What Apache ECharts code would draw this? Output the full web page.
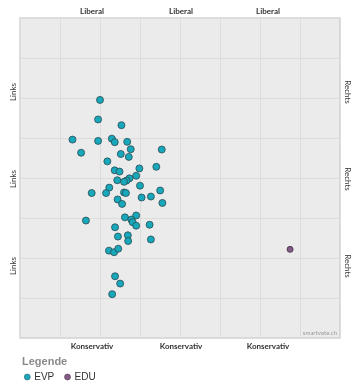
<!DOCTYPE html>
<html>
<head>
<meta charset="utf-8">
<script src="https://cdn.jsdelivr.net/npm/echarts@6/dist/echarts.min.js"></script>
<style>html,body{margin:0;padding:0;background:#fff}#c{width:362px;height:388px}</style>
</head>
<body>
<div id="c"></div>
<script>
// Data (x: 0 = left/Links, 100 = right/Rechts; y: 0 = Konservativ, 100 = Liberal)
const evpX = [25.0,24.4,31.7,16.4,24.4,28.7,29.6,33.5,19.1,31.5,34.6,34.0,44.3,27.3,29.6,31.1,37.3,42.6,30.4,36.3,34.2,33.3,32.5,27.9,37.5,22.4,26.9,32.5,33.1,43.8,30.5,38.0,40.9,31.9,44.5,32.8,36.3,34.8,35.2,36.3,40.5,20.6,29.7,30.6,33.7,33.8,40.9,27.8,29.4,30.7,29.7,31.3,28.8];
const evpY = [74.4,68.3,66.5,62.0,61.6,62.3,61.2,61.3,57.9,57.5,59.0,56.6,58.9,55.2,52.4,52.0,53.0,53.5,49.3,50.7,49.9,49.2,48.8,47.0,47.6,45.3,45.3,45.5,45.3,46.1,43.3,43.9,44.2,41.9,42.2,37.7,38.3,37.0,36.2,35.1,35.4,36.7,34.6,31.7,32.1,30.3,30.8,27.3,26.8,27.9,19.3,17.0,13.7];
const eduX = [84.4];
const eduY = [27.7];
const seriesNames = ['EVP','EDU'];
const topLabels = ['Liberal','Liberal','Liberal'];
const bottomLabels = ['Konservativ','Konservativ','Konservativ'];
const leftLabels = ['Links','Links','Links'];
const rightLabels = ['Rechts','Rechts','Rechts'];
const legendTitle = 'Legende';
const credit = 'smartvote.ch';

const evpData = evpX.map((x,i)=>[x, evpY[i]]);
const eduData = eduX.map((x,i)=>[x, eduY[i]]);

const labelX = [92,181,268];
const labelY = [92,179,266];
const g = [];
topLabels.forEach((t,i)=>g.push({type:'text',x:labelX[i],y:11,style:{text:t,font:'bold 8px Lato, sans-serif',fill:'#333',align:'center',verticalAlign:'middle'}}));
bottomLabels.forEach((t,i)=>g.push({type:'text',x:labelX[i],y:346,style:{text:t,font:'bold 8px Lato, sans-serif',fill:'#333',align:'center',verticalAlign:'middle'}}));
leftLabels.forEach((t,i)=>g.push({type:'text',x:13,y:labelY[i],rotation:Math.PI/2,style:{text:t,font:'8px Lato, sans-serif',fill:'#333',align:'center',verticalAlign:'middle'}}));
rightLabels.forEach((t,i)=>g.push({type:'text',x:348,y:labelY[i],rotation:-Math.PI/2,style:{text:t,font:'8px Lato, sans-serif',fill:'#333',align:'center',verticalAlign:'middle'}}));
g.push({type:'text',x:337,y:333,style:{text:credit,font:'6px Lato, sans-serif',fill:'#999',align:'right',verticalAlign:'middle'}});
g.push({type:'text',x:22,y:362,style:{text:legendTitle,font:'bold 11px "Liberation Sans", Arial, sans-serif',fill:'#8a8a8a',align:'left',verticalAlign:'middle'}});

const chart = echarts.init(document.getElementById('c'), null, {renderer:'canvas'});
chart.setOption({
  animation:false,
  grid:{left:20,top:18,width:320,height:320,show:true,backgroundColor:'#ebebeb',borderColor:'#d2d2d2',borderWidth:1.5},
  xAxis:{type:'value',min:0,max:100,interval:12.5,axisLabel:{show:false},axisTick:{show:false},axisLine:{show:false},splitLine:{show:true,lineStyle:{color:'#dcdcdc',width:1}}},
  yAxis:{type:'value',min:0,max:100,interval:12.5,axisLabel:{show:false},axisTick:{show:false},axisLine:{show:false},splitLine:{show:true,lineStyle:{color:'#dcdcdc',width:1}}},
  legend:{left:19,top:367,itemWidth:6,itemHeight:6,itemGap:10,icon:'circle',itemStyle:{borderWidth:0.5},textStyle:{fontSize:10,color:'#333',fontFamily:'"Liberation Sans", Arial, sans-serif',padding:[0,0,0,-1]},data:seriesNames},
  graphic:g,
  series:[
    {name:seriesNames[0],type:'scatter',data:evpData,symbolSize:7,itemStyle:{color:'#17a8bb',borderColor:'#2c4a50',borderWidth:0.8,opacity:1}},
    {name:seriesNames[1],type:'scatter',data:eduData,symbolSize:6,itemStyle:{color:'#845a86',borderColor:'#3a2a3c',borderWidth:0.8,opacity:1}}
  ]
});
</script>
</body>
</html>
